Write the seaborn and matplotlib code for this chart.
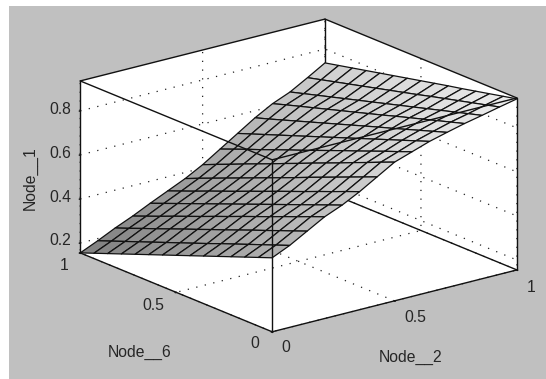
import numpy as np
import seaborn as sns
import matplotlib.pyplot as plt
from matplotlib.patches import Rectangle

# Node__2 / Node__6 grid values
node_2 = np.linspace(0, 1, 15)
node_6 = np.linspace(0, 1, 15)

# Node__1, one list per Node__6 step
z00 = [.491, .527, .572, .617, .650, .691, .738, .785, .812, .839, .860, .880, .897, .915, .932]
z01 = [.467, .503, .547, .592, .625, .666, .712, .759, .787, .816, .839, .861, .879, .899, .918]
z02 = [.443, .479, .523, .566, .600, .640, .686, .732, .763, .793, .818, .842, .861, .883, .904]
z03 = [.419, .455, .498, .541, .575, .615, .660, .706, .738, .770, .797, .823, .843, .867, .890]
z04 = [.395, .431, .474, .515, .550, .589, .634, .679, .713, .747, .776, .804, .825, .851, .876]
z05 = [.371, .407, .449, .490, .525, .564, .608, .653, .689, .724, .756, .785, .807, .835, .863]
z06 = [.347, .382, .424, .465, .500, .539, .581, .627, .664, .701, .735, .765, .789, .818, .849]
z07 = [.323, .358, .400, .439, .475, .513, .555, .600, .639, .678, .714, .746, .771, .802, .835]
z08 = [.299, .334, .375, .414, .450, .488, .529, .574, .614, .655, .693, .727, .753, .786, .821]
z09 = [.275, .310, .351, .388, .425, .462, .503, .547, .590, .632, .672, .708, .735, .770, .807]
z10 = [.251, .286, .326, .363, .400, .437, .477, .521, .565, .609, .651, .689, .717, .754, .793]
z11 = [.227, .262, .301, .338, .375, .412, .451, .495, .540, .586, .630, .670, .699, .738, .779]
z12 = [.203, .238, .277, .312, .350, .386, .425, .468, .516, .563, .609, .651, .681, .722, .765]
z13 = [.179, .214, .252, .287, .325, .361, .399, .442, .491, .540, .588, .632, .663, .706, .751]
z14 = [.155, .190, .228, .262, .300, .336, .372, .415, .466, .517, .568, .612, .645, .690, .737]
node_1 = np.array([z00, z01, z02, z03, z04, z05, z06, z07, z08, z09, z10, z11, z12, z13, z14])

x_ticks = [0, 0.5, 1]
y_ticks = [0, 0.5, 1]
z_ticks = [0.2, 0.4, 0.6, 0.8]
x_labels = ['0', '0.5', '1']
y_labels = ['0', '0.5', '1']
z_labels = ['0.2', '0.4', '0.6', '0.8']
z_lo, z_hi = 0.155, 0.936

W, H = 546, 379
GRAY = '#c0c0c0'
INK = '#262626'


def put_text(px, py, s, **kw):
    # place text by pixel position in the picture
    kw.setdefault('ha', 'center')
    fig.text(px / W, 1 - py / H, s, va='center', color=INK, **kw)


sns.set_theme(style='white', rc={
    'grid.linestyle': (0, (1, 6)),
    'grid.linewidth': 0.9,
    'grid.color': '#222222',
})
plt.rcParams['font.family'] = ['Liberation Sans', 'DejaVu Sans']
plt.rcParams['font.size'] = 11.3

fig = plt.figure(figsize=(W / 100, H / 100), dpi=100, facecolor='white')
fig.add_artist(Rectangle((9 / W, 0), 1 - 9 / W, 1 - 6 / H, transform=fig.transFigure,
                         facecolor=GRAY, edgecolor='none', zorder=-5))

ax = fig.add_axes([11 / W, -84 / H, 560 / W, 560 / H], projection='3d', computed_zorder=False)
ax.patch.set_visible(False)
ax.set_proj_type('ortho')
ax.view_init(elev=18.8, azim=-128.1)
ax.set_box_aspect((1, 1, 0.584), zoom=0.825)
ax.set_xlim(0, 1, view_margin=0)
ax.set_ylim(0, 1, view_margin=0)
ax.set_zlim(z_lo, z_hi, view_margin=0)

for axis in (ax.xaxis, ax.yaxis, ax.zaxis):
    axis.set_pane_color('white')
    axis.pane.set_edgecolor('none')
    axis.line.set_color('none')
    axis._axinfo['tick']['inward_factor'] = 0.04
    axis._axinfo['tick']['outward_factor'] = 0.0

ax.set_xticks(x_ticks, labels=[''] * len(x_ticks))
ax.set_yticks(y_ticks, labels=[''] * len(y_ticks))
ax.set_zticks(z_ticks, labels=[''] * len(z_ticks))

# back edges go under the surface, front edges over it
back = dict(color='#111111', lw=1.0, zorder=1)
front = dict(color='#111111', lw=1.0, zorder=5)
ax.plot([1, 1], [1, 1], [z_lo, z_hi], **back)
ax.plot([0, 1], [1, 1], [z_lo, z_lo], **back)
ax.plot([1, 1], [0, 1], [z_lo, z_lo], **back)

X, Y = np.meshgrid(node_2, node_6)
ax.plot_surface(X, Y, node_1, cmap=sns.color_palette('gray', as_cmap=True), vmin=-0.754, vmax=1.064,
                rstride=1, cstride=1, edgecolor='#111111', linewidth=0.9, shade=False, zorder=3)

ax.plot([0, 0], [0, 0], [z_lo, z_hi], **front)
ax.plot([0, 0], [1, 1], [z_lo, z_hi], **front)
ax.plot([1, 1], [0, 0], [z_lo, z_hi], **front)
ax.plot([0, 1], [0, 0], [z_lo, z_lo], **front)
ax.plot([0, 0], [0, 1], [z_lo, z_lo], **front)
ax.plot([0, 1], [0, 0], [z_hi, z_hi], **front)
ax.plot([0, 0], [0, 1], [z_hi, z_hi], **front)
ax.plot([0, 1], [1, 1], [z_hi, z_hi], **front)
ax.plot([1, 1], [0, 1], [z_hi, z_hi], **front)

# tick labels and axis names sit at fixed spots in the picture
for s, (px, py) in zip(x_labels, [(286, 347), (415, 317), (531, 287)]):
    put_text(px, py, s)
for s, (px, py) in zip(y_labels, [(255, 344), (153, 305), (64, 266)]):
    put_text(px, py, s)
for s, py in zip(z_labels, [240, 197, 153, 109]):
    put_text(71, py, s, ha='right')
put_text(140, 352, 'Node__6')
put_text(411, 357, 'Node__2')
put_text(30, 178, 'Node__1', rotation=90)

fig.savefig('out.png', dpi=100)
